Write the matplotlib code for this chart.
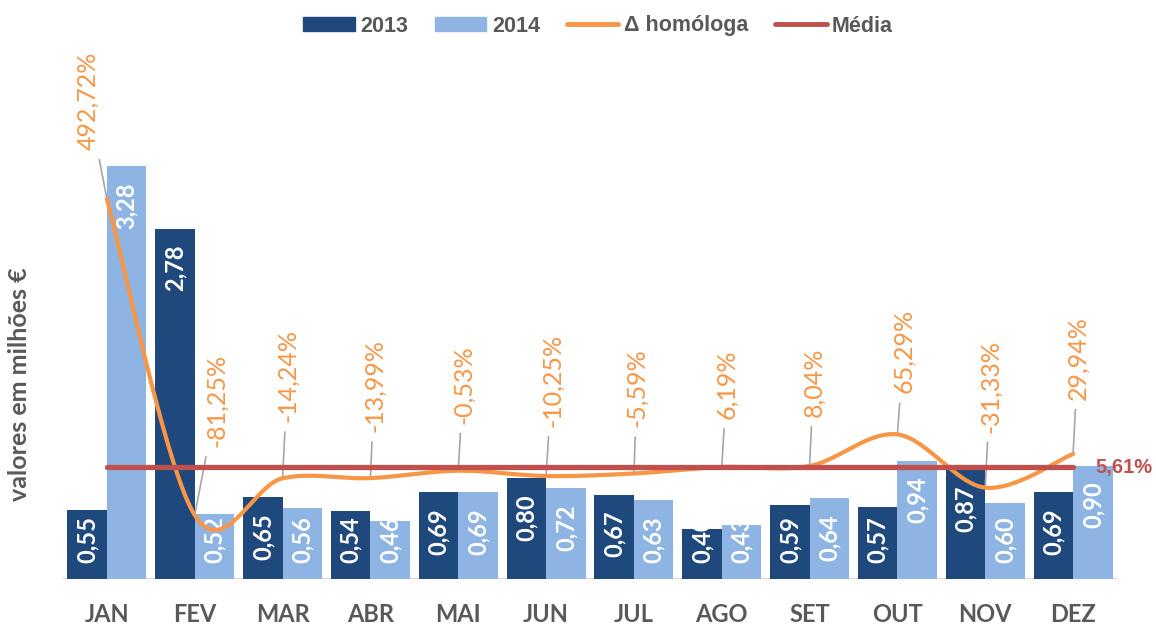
import numpy as np
import matplotlib
matplotlib.use('Agg')
import matplotlib.pyplot as plt
from matplotlib.patches import Patch
from matplotlib.lines import Line2D

# dados
meses = ['JAN', 'FEV', 'MAR', 'ABR', 'MAI', 'JUN', 'JUL', 'AGO', 'SET', 'OUT', 'NOV', 'DEZ']
v2013 = [0.55, 2.78, 0.65, 0.54, 0.69, 0.80, 0.67, 0.40, 0.59, 0.57, 0.87, 0.69]
v2014 = [3.28, 0.52, 0.56, 0.46, 0.69, 0.72, 0.63, 0.43, 0.64, 0.94, 0.60, 0.90]
homologa = [492.72, -81.25, -14.24, -13.99, -0.53, -10.25, -5.59, 6.19, 8.04, 65.29, -31.33, 29.94]
media = 5.61

# posicao das etiquetas da variacao (pixeis, relativo ao ponto)
label_dx = [-19, 22, 5, 4, 5, 6, 3, 5, 4, 6, 5, 5]
label_dy = [49, 68, 56, 46, 47, 49, 46, 48, 49, 41, 55, 54]

c2013 = '#1F497D'
c2014 = '#8EB4E3'
laranja = '#F79646'
vermelho = '#C0504D'
cinza = '#595959'

W, H = 1156, 625
fig = plt.figure(figsize=(W / 100, H / 100), dpi=100)

# geometria do grafico (pixeis)
left_px, right_px = 63, 1117
base_px, top_px = 579, 50
px_unit = 125.9           # pixeis por milhao
px_pct = 0.551            # pixeis por ponto percentual
zero_pct_px = 470.4       # posicao do 0% no eixo secundario
alt_px = base_px - top_px

ax = fig.add_axes([left_px / W, (H - base_px) / H, (right_px - left_px) / W, alt_px / H])
ax.set_xlim(-0.5, 11.5)
ax.set_ylim(0, alt_px / px_unit)

x = np.arange(len(meses))
w = 0.45
b1 = ax.bar(x - w / 2, v2013, w, color=c2013, zorder=2)
b2 = ax.bar(x + w / 2, v2014, w, color=c2014, zorder=2)

# etiquetas dentro da barra; se nao couber, encosta em baixo e fica cortada pela barra
margem, comp = 16, 48
for bars, vals in ((b1, v2013), (b2, v2014)):
    for rect, v in zip(bars, vals):
        xc = rect.get_x() + rect.get_width() / 2
        txt = f'{v:.2f}'.replace('.', ',')
        if v * px_unit - 2 * margem >= comp:
            t = ax.annotate(txt, (xc, v), xytext=(0, -margem), textcoords='offset pixels',
                            ha='center', va='top', rotation=90, color='white',
                            fontsize=17, fontweight='bold', family='Lato', zorder=3)
        else:
            t = ax.annotate(txt, (xc, 0), xytext=(0, margem), textcoords='offset pixels',
                            ha='center', va='bottom', rotation=90, color='white',
                            fontsize=17, fontweight='bold', family='Lato', zorder=3)
        t.set_clip_path(rect)

for s in ax.spines.values():
    s.set_visible(False)
ax.axhline(0, color='#D9D9D9', lw=1.6, zorder=1)
ax.set_yticks([])
ax.set_xticks(x)
ax.set_xticklabels(meses, fontsize=17, fontweight='bold', family='Lato', color=cinza)
ax.tick_params(axis='x', length=0, pad=17)

# eixo secundario para a variacao homologa
ax2 = ax.twinx()
ax2.set_ylim(-(base_px - zero_pct_px) / px_pct, (zero_pct_px - top_px) / px_pct)
ax2.set_xlim(-0.5, 11.5)
ax2.axis('off')


def suavizar(xs, ys, n=40):
    pts = np.column_stack([xs, ys]).astype(float)
    out = []
    for i in range(len(pts) - 1):
        p0 = pts[i - 1] if i > 0 else pts[i]
        p1 = pts[i]
        p2 = pts[i + 1]
        p3 = pts[i + 2] if i + 2 < len(pts) else pts[i + 1]
        c1 = p1 + (p2 - p0) / 6
        c2 = p2 - (p3 - p1) / 6
        t = np.linspace(0, 1, n)[:, None]
        seg = (1 - t) ** 3 * p1 + 3 * (1 - t) ** 2 * t * c1 + 3 * (1 - t) * t ** 2 * c2 + t ** 3 * p2
        out.append(seg if i == 0 else seg[1:])
    out = np.vstack(out)
    return out[:, 0], out[:, 1]


sx, sy = suavizar(x, homologa)
ax2.plot(sx, sy, color=laranja, lw=3, solid_capstyle='round', zorder=4)
ax2.plot([x[0], x[-1]], [media, media], color=vermelho, lw=3.8, solid_capstyle='round', zorder=5)

for i, v in enumerate(homologa):
    ax2.annotate(f'{v:.2f}%'.replace('.', ','), (x[i], v),
                 xytext=(label_dx[i], label_dy[i]), textcoords='offset pixels',
                 ha='center', va='bottom', rotation=90, color=laranja,
                 fontsize=18, family='Lato', annotation_clip=False,
                 arrowprops=dict(arrowstyle='-', color='#A6A6A6', lw=1.2,
                                 shrinkA=5, shrinkB=0))

ax2.annotate(f'{media:.2f}%'.replace('.', ','), (x[-1], media),
             xytext=(22, 0), textcoords='offset pixels', ha='left', va='center',
             color=vermelho, fontsize=14.5, fontweight='bold',
             family='Liberation Sans', annotation_clip=False)

fig.text(20 / W, 1 - 384 / H, 'valores em milhões €', rotation=90, ha='center', va='center',
         fontsize=18, fontweight='bold', family='Lato', color=cinza)

handles = [Patch(color=c2013), Patch(color=c2014),
           Line2D([], [], color=laranja, lw=3.5, solid_capstyle='round'),
           Line2D([], [], color=vermelho, lw=3.5, solid_capstyle='round')]
fig.legend(handles, ['2013', '2014', 'Δ homóloga', 'Média'], loc='center',
           bbox_to_anchor=(598 / W, 1 - 26 / H), ncol=4, frameon=False,
           prop={'family': 'Liberation Sans', 'weight': 'bold', 'size': 15.5},
           labelcolor=cinza, handlelength=2.4, handleheight=0.6,
           handletextpad=0.25, columnspacing=1.25)

fig.savefig('out.png', dpi=100)
